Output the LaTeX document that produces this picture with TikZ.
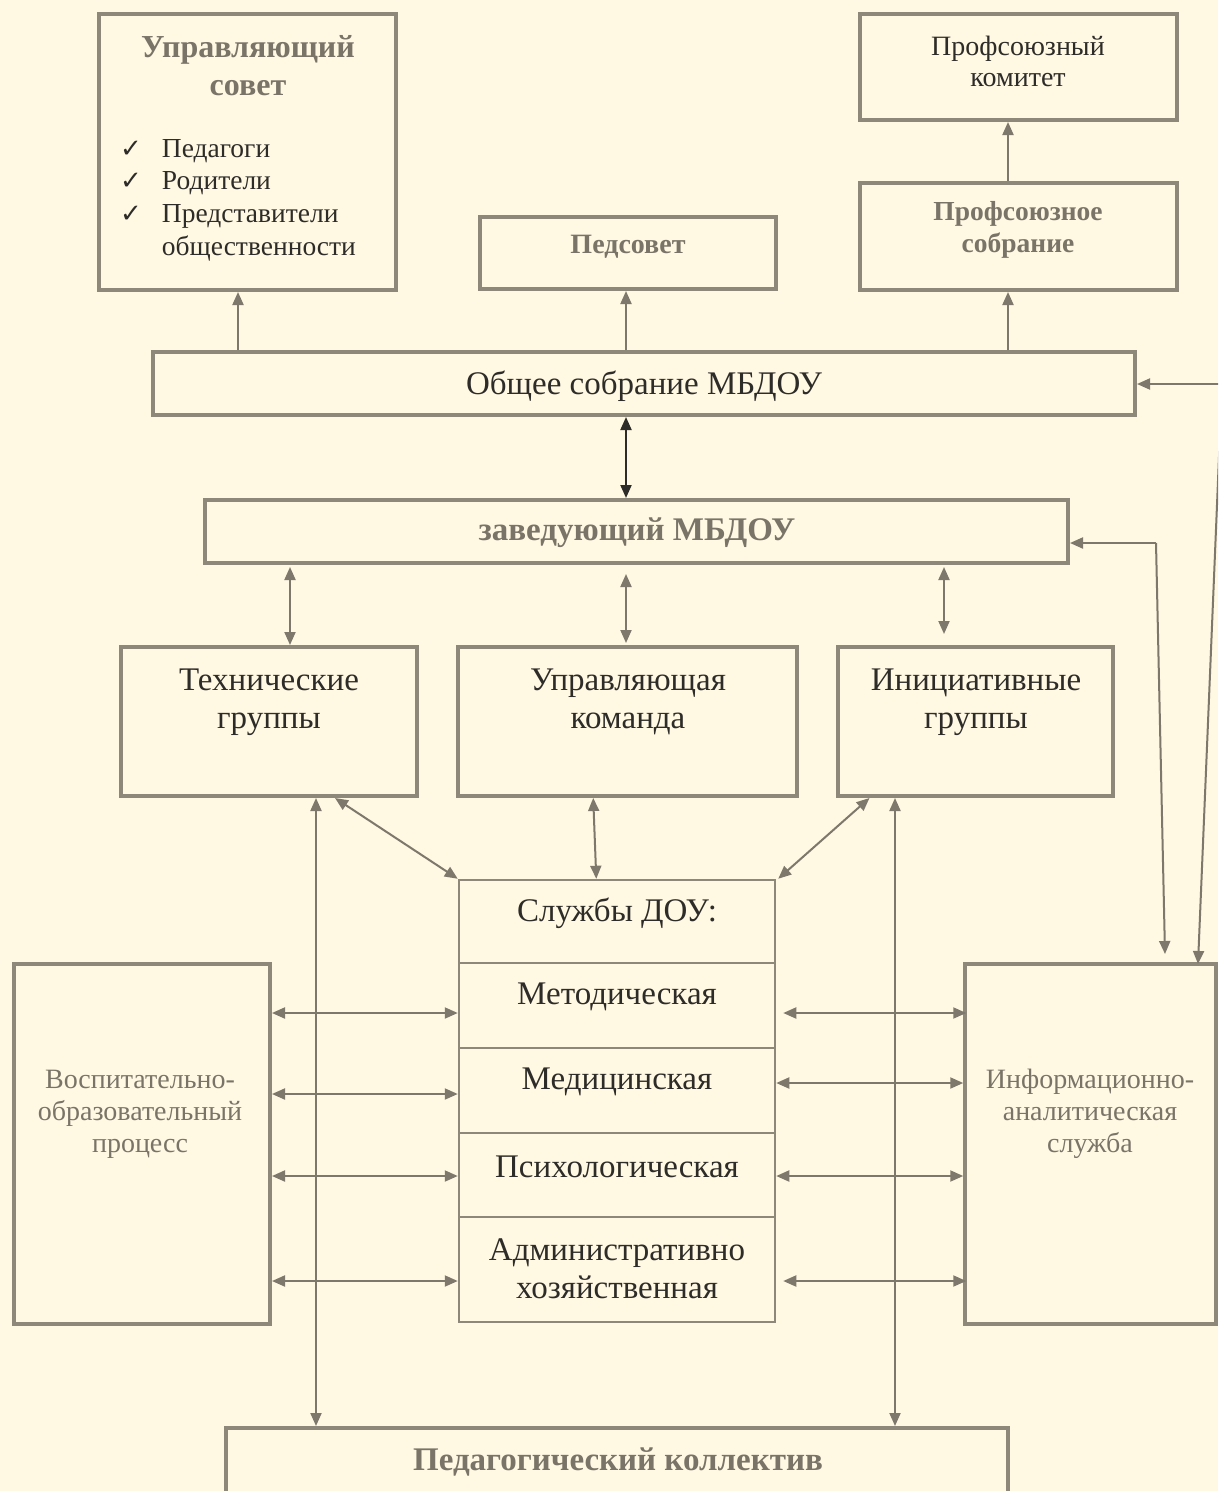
\documentclass[tikz,border=0pt]{standalone}
\usepackage{fontspec}
\setmainfont{Liberation Serif}
\newfontfamily\djv{DejaVu Sans}
\usetikzlibrary{fit,arrows.meta,calc}
\definecolor{bg}{HTML}{FFF8E3}
\definecolor{lc}{HTML}{8E887B}
\definecolor{ac}{HTML}{7E786C}
\definecolor{dk}{HTML}{2E2C28}
\definecolor{gt}{HTML}{7A7468}
\newcommand\ck{{\djv\fontsize{26}{33}\selectfont ✓}\hspace{20pt}}
\tikzset{
  box/.style={draw=lc, line width=4pt, inner sep=0pt, fill=none},
  thinbox/.style={draw=lc, line width=2.5pt, inner sep=0pt},
  tx/.style={align=center, inner sep=0pt, text=dk},
  gtx/.style={align=center, inner sep=0pt, text=gt, font=\bfseries},
  arr/.style={draw=ac, line width=2pt, -{Triangle[length=13pt,width=11pt]}},
  darr/.style={draw=ac, line width=2pt, {Triangle[length=13pt,width=11pt]}-{Triangle[length=13pt,width=11pt]}},
}
\begin{document}
\begin{tikzpicture}[x=1pt,y=-1pt]
\fill[bg] (0,0) rectangle (1218,1491);
\useasboundingbox (0,0) rectangle (1218,1491);
\clip (0,0) rectangle (1218,1491);

% boxes
\node[box, fit={(99,14)(396,290)}] (ucs) {};
\node[box, fit={(480,217)(776,289)}] (ped) {};
\node[box, fit={(860,14)(1177,120)}] (prk) {};
\node[box, fit={(860,183)(1177,290)}] (prs) {};
\node[box, fit={(153,352)(1135,415)}] (obs) {};
\node[box, fit={(205,500)(1068,563)}] (zav) {};
\node[box, fit={(121,647)(417,796)}] (teh) {};
\node[box, fit={(458,647)(797,796)}] (upr) {};
\node[box, fit={(838,647)(1113,796)}] (ini) {};
\node[box, fit={(14,964)(270,1324)}] (vos) {};
\node[box, line width=3.5pt, fit={(965,964)(1216,1324)}] (inf) {};
\node[box, fit={(226,1428)(1008,1520)}] (pdk) {};
% services stack
\node[thinbox, fit={(459,880)(775,1322)}] (sl) {};
\node[thinbox, fit={(459,880)(775,963)}] (sl0) {};
\node[thinbox, fit={(459,963)(775,1048)}] (sl1) {};
\node[thinbox, fit={(459,1048)(775,1133)}] (sl2) {};
\node[thinbox, fit={(459,1133)(775,1217)}] (sl3) {};
\node[thinbox, fit={(459,1217)(775,1322)}] (sl4) {};

% texts
\node[gtx, font=\fontsize{32}{38}\selectfont\bfseries] (tucs) at (248,66) {Управляющий\\совет};
\node[tx, align=left, anchor=north west, font=\fontsize{27.5}{32.7}\selectfont] (tucl) at (120,139)
  {\ck Педагоги\\
   \ck Родители\\
   \ck Представители\\
   \hphantom{\ck}общественности};
\node[gtx, font=\fontsize{28}{31}\selectfont\bfseries] (tped) at (628,247) {Педсовет};
\node[tx, font=\fontsize{28}{31}\selectfont] (tprk) at (1018,61) {Профсоюзный\\комитет};
\node[gtx, font=\fontsize{27.5}{32}\selectfont\bfseries] (tprs) at (1018,230) {Профсоюзное\\собрание};
\node[tx, font=\fontsize{33}{36}\selectfont] (tobs) at (644,386) {Общее собрание МБДОУ};
\node[gtx, font=\fontsize{33}{36}\selectfont\bfseries] (tzav) at (637,533) {заведующий МБДОУ};
\node[tx, font=\fontsize{33}{38}\selectfont] (tteh) at (269,702) {Технические\\группы};
\node[tx, font=\fontsize{33}{38}\selectfont] (tupr) at (628,702) {Управляющая\\команда};
\node[tx, font=\fontsize{33}{38}\selectfont] (tini) at (976,702) {Инициативные\\группы};
\node[tx, font=\fontsize{33}{38}\selectfont] (ts0) at (617,913) {Службы ДОУ:};
\node[tx, font=\fontsize{33}{38}\selectfont] (ts1) at (617,997) {Методическая};
\node[tx, font=\fontsize{33}{38}\selectfont] (ts2) at (617,1082) {Медицинская};
\node[tx, font=\fontsize{33}{38}\selectfont] (ts3) at (617,1167) {Психологическая};
\node[tx, font=\fontsize{33}{38}\selectfont] (ts4) at (617,1269) {Административно\\хозяйственная};
\node[tx, text=gt, font=\fontsize{28}{32}\selectfont] (tvos) at (140,1114) {Воспитательно-\\образовательный\\процесс};
\node[tx, text=gt, font=\fontsize{28}{32}\selectfont] (tinf) at (1090,1114) {Информационно-\\аналитическая\\служба};
\node[gtx, font=\fontsize{33}{34}\selectfont\bfseries] (tpdk) at (618,1462) {Педагогический коллектив};

% column coordinates
\coordinate (c238) at (238,0);
\coordinate (c626) at (626,0);
\coordinate (c1008) at (1008,0);
\coordinate (c290) at (290,0);
\coordinate (c944) at (944,0);
\coordinate (c316) at (316,0);
\coordinate (c895) at (895,0);
\coordinate (r1) at (0,1013);
\coordinate (r2) at (0,1094);
\coordinate (r2b) at (0,1083);
\coordinate (r3) at (0,1176);
\coordinate (r4) at (0,1281);
\coordinate (R) at (1222,384);
\coordinate (bend) at (1156,543);
\coordinate (infA) at (1165,954);
\coordinate (infB) at (1198,964);

% upward arrows
\draw[arr] (obs.north -| c238) -- (ucs.south -| c238);
\draw[arr] (obs.north -| c626) -- (ped.south -| c626);
\draw[arr] (obs.north -| c1008) -- (prs.south -| c1008);
\draw[arr] (prs.north -| c1008) -- (prk.south -| c1008);
% zav <-> obs
\draw[darr, draw=dk] (zav.north -| c626) -- (obs.south -| c626);
% zav <-> groups
\draw[darr] ([yshift=-2pt]zav.south -| c290) -- (teh.north -| c290);
\draw[darr] ([yshift=-9pt]zav.south -| c626) -- ([yshift=2pt]upr.north -| c626);
\draw[darr] ([yshift=-2pt]zav.south -| c944) -- ([yshift=11pt]ini.north -| c944);
% groups <-> services
\draw[darr] ($(teh.south west)!0.72!(teh.south east)$) -- (sl.north west);
\draw[darr] ($(upr.south west)!0.4!(upr.south east)$) -- ($(sl.north west)!0.435!(sl.north east)$);
\draw[darr] ($(ini.south west)!0.12!(ini.south east)$) -- ([xshift=2pt]sl.north east);
% long verticals
\draw[darr] (teh.south -| c316) -- (pdk.north -| c316);
\draw[darr] (ini.south -| c895) -- (pdk.north -| c895);
% left horizontals
\draw[darr] (vos.east |- r1) -- (sl.west |- r1);
\draw[darr] (vos.east |- r2) -- (sl.west |- r2);
\draw[darr] (vos.east |- r3) -- (sl.west |- r3);
\draw[darr] (vos.east |- r4) -- (sl.west |- r4);
% right horizontals
\draw[darr] ([xshift=7pt]sl.east |- r1) -- ([xshift=3pt]inf.west |- r1);
\draw[darr] (sl.east |- r2b) -- (inf.west |- r2b);
\draw[darr] (sl.east |- r3) -- (inf.west |- r3);
\draw[darr] ([xshift=7pt]sl.east |- r4) -- ([xshift=3pt]inf.west |- r4);
% right feedback lines
\draw[arr] (R) -- (obs.east |- R);
\draw[arr] (R) -- (infB);
\draw[arr] (bend) -- (infA);
\draw[arr] (bend) -- (zav.east |- bend);
\end{tikzpicture}
\end{document}
